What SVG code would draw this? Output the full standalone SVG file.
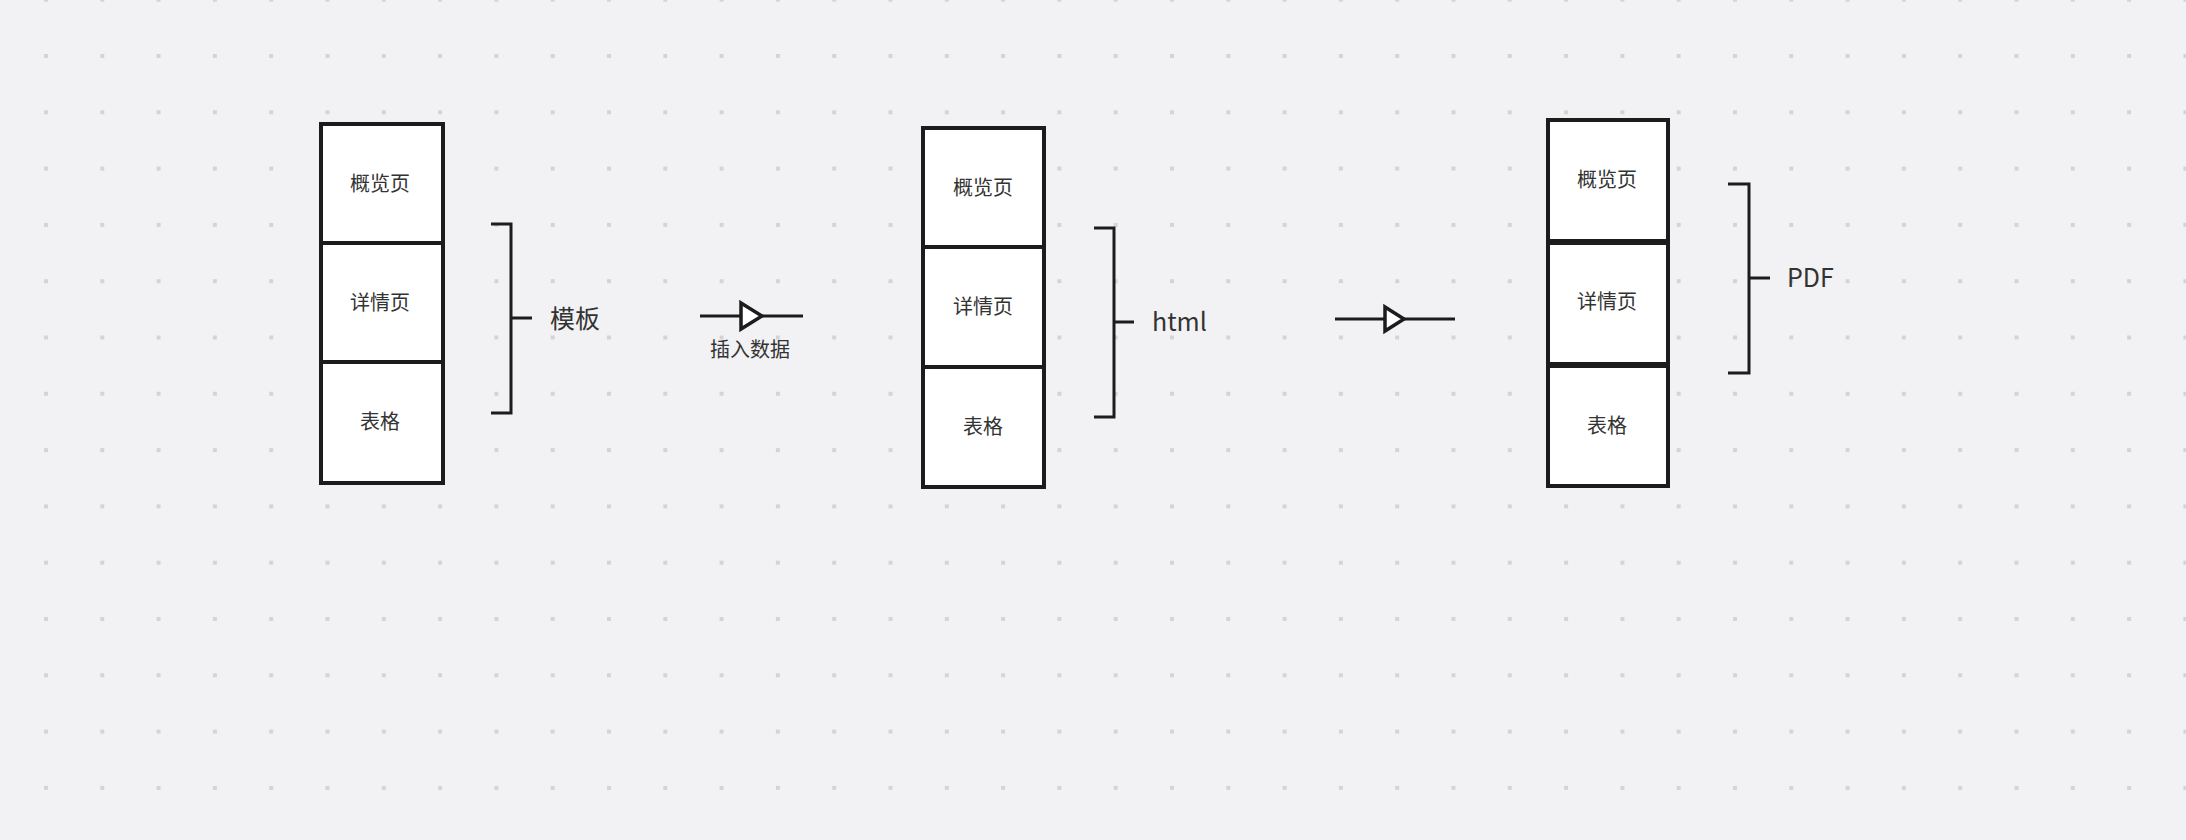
<svg xmlns="http://www.w3.org/2000/svg" width="2186" height="840" viewBox="0 0 2186 840">
<defs>
<pattern id="dots" x="44" y="54" width="56.3" height="56.3" patternUnits="userSpaceOnUse"><rect width="4" height="4" fill="#d4d4d8"/></pattern>
<style>
.cell{fill:#fff;stroke:#1c1c1c;stroke-width:4}
.br{fill:none;stroke:#1c1c1c;stroke-width:3}
.ln{fill:none;stroke:#1c1c1c;stroke-width:3}
.tri{fill:#fff;stroke:#1c1c1c;stroke-width:3.5}
.t{font-family:"Noto Sans CJK SC","Noto Sans",sans-serif;font-size:20px;fill:#333;text-anchor:middle}
.lb{font-family:"Noto Sans CJK SC","Noto Sans",sans-serif;font-size:25px;fill:#333}
</style>
</defs>
<rect width="2186" height="840" fill="#f2f2f4"/>
<rect width="2186" height="840" fill="url(#dots)"/>
<g id="stack1">
<rect class="cell" x="321" y="124" width="122" height="119"/>
<rect class="cell" x="321" y="243" width="122" height="119"/>
<rect class="cell" x="321" y="362" width="122" height="121"/>
<text class="t" x="380" y="191">概览页</text>
<text class="t" x="380" y="310">详情页</text>
<text class="t" x="380" y="429">表格</text>
</g>
<g id="bracket1"><path class="br" d="M491 224H511V413H491M511 318H532"/><text class="lb" x="550" y="328">模板</text></g>
<g id="stack2">
<rect class="cell" x="923" y="128" width="121" height="119"/>
<rect class="cell" x="923" y="247" width="121" height="120"/>
<rect class="cell" x="923" y="367" width="121" height="120"/>
<text class="t" x="983" y="195">概览页</text>
<text class="t" x="983" y="314">详情页</text>
<text class="t" x="983" y="434">表格</text>
</g>
<g id="bracket2"><path class="br" d="M1094 228H1114V417H1094M1114 322H1134"/><text class="lb" x="1152" y="331">html</text></g>
<g id="stack3">
<rect class="cell" x="1548" y="120" width="120" height="121"/>
<rect class="cell" x="1548" y="243" width="120" height="121"/>
<rect class="cell" x="1548" y="366" width="120" height="120"/>
<text class="t" x="1607" y="187">概览页</text>
<text class="t" x="1607" y="309">详情页</text>
<text class="t" x="1607" y="433">表格</text>
</g>
<g id="bracket3"><path class="br" d="M1728 184H1749V373H1728M1749 278H1770"/><text class="lb" x="1787" y="287">PDF</text></g>
<g id="connectors">
<path class="ln" d="M700 316H803"/><path class="tri" d="M741 303L762 316L741 329Z"/>
<text class="t" x="750" y="357">插入数据</text>
<path class="ln" d="M1335 319H1455"/><path class="tri" d="M1385 307L1404 319L1385 331Z"/>
</g>
</svg>
